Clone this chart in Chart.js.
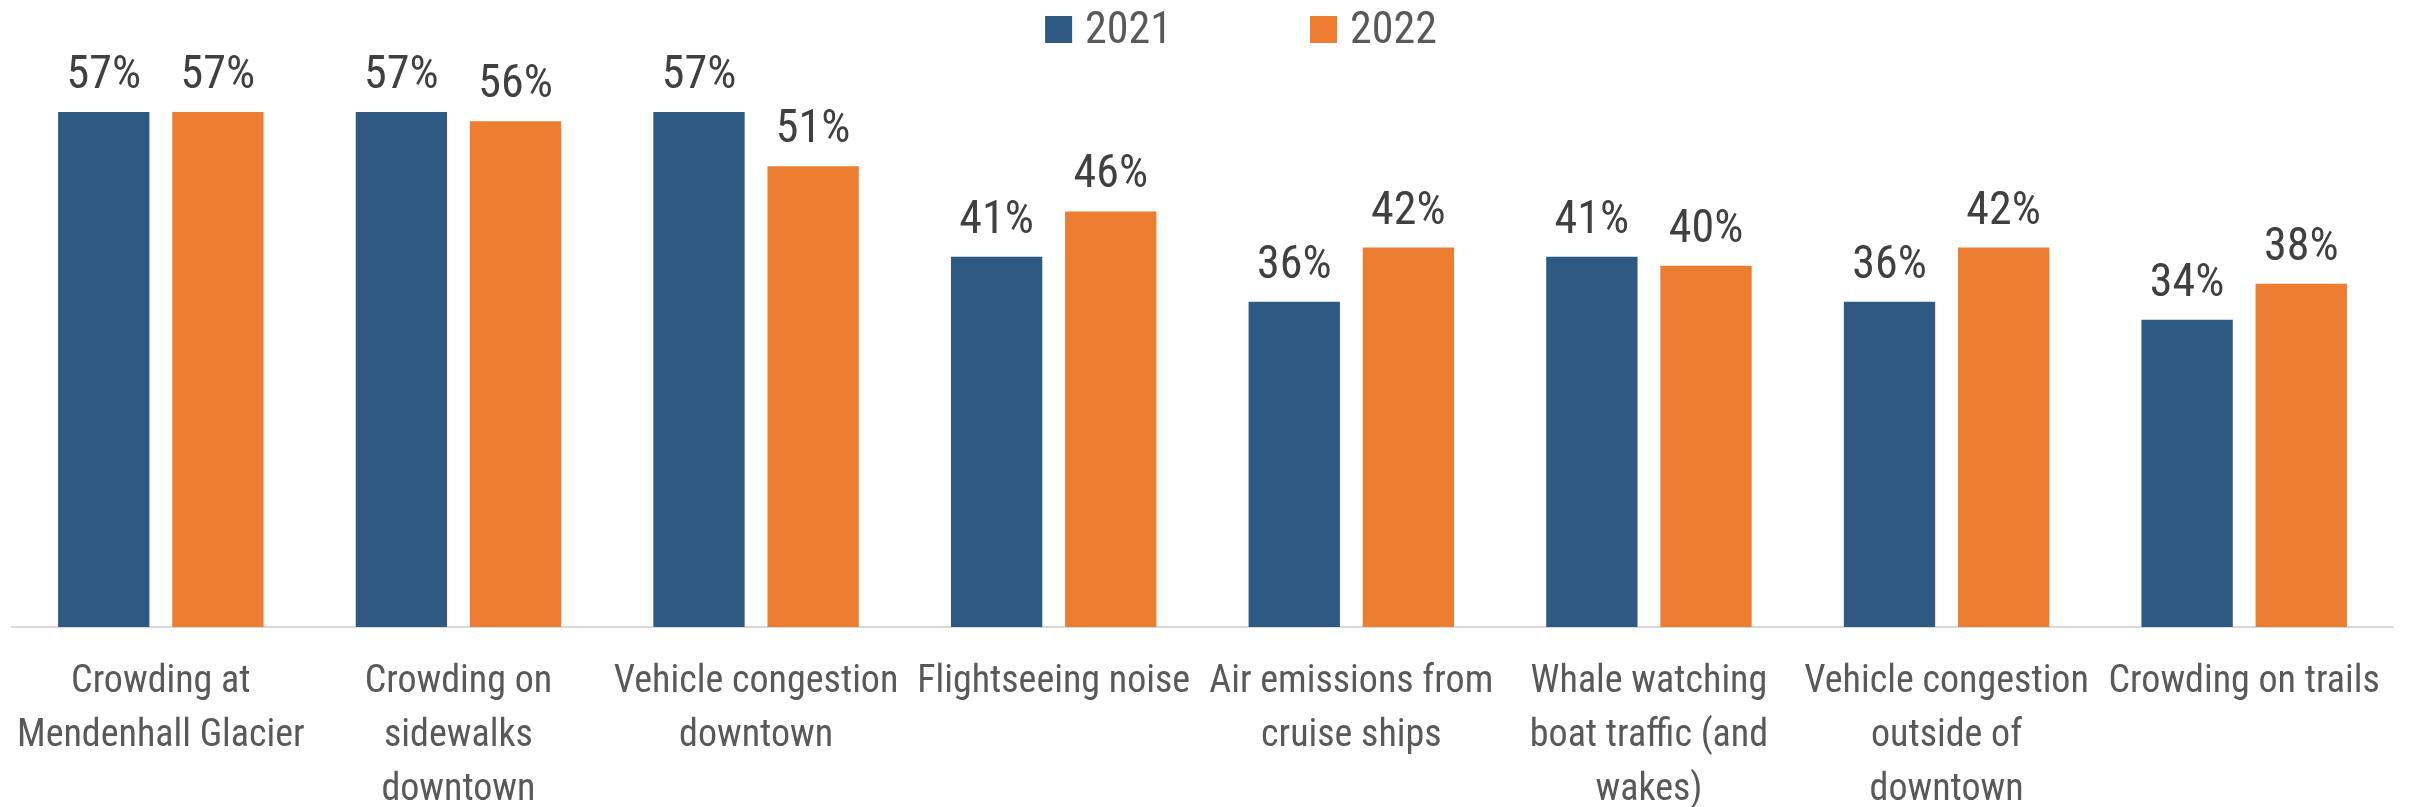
<!DOCTYPE html>
<html>
<head>
<meta charset="utf-8">
<script src="https://cdn.jsdelivr.net/npm/chart.js@4.4.1/dist/chart.umd.min.js"></script>
<style>
  html, body { margin: 0; padding: 0; background: #fff; }
  #wrap { width: 2412px; height: 807px; position: relative; }
</style>
</head>
<body>
<div id="wrap"><canvas id="impactChart"></canvas></div>
<script>
const categoryLabels = [
  ['Crowding at', 'Mendenhall Glacier'],
  ['Crowding on', 'sidewalks', 'downtown'],
  ['Vehicle congestion', 'downtown'],
  ['Flightseeing noise'],
  ['Air emissions from', 'cruise ships'],
  ['Whale watching', 'boat traffic (and', 'wakes)'],
  ['Vehicle congestion', 'outside of', 'downtown'],
  ['Crowding on trails'],
];
const seriesNames = ['2021', '2022'];
const values2021 = [57, 57, 57, 41, 36, 41, 36, 34];
const values2022 = [57, 56, 51, 46, 42, 40, 42, 38];

const FONT = "'Roboto Condensed', 'DejaVu Sans Condensed', sans-serif";

// percent labels above each bar
const valueLabels = {
  id: 'valueLabels',
  afterDatasetsDraw(chart) {
    const ctx = chart.ctx;
    ctx.save();
    ctx.font = `46px ${FONT}`;
    ctx.fillStyle = '#404040';
    ctx.textAlign = 'center';
    ctx.textBaseline = 'alphabetic';
    chart.data.datasets.forEach((ds, i) => {
      chart.getDatasetMeta(i).data.forEach((bar, j) => {
        ctx.fillText(`${ds.data[j]}%`, bar.x, bar.y - 24);
      });
    });
    ctx.restore();
  },
};

// legend row at the top, wide spacing between items
const topLegend = {
  id: 'topLegend',
  afterDraw(chart) {
    const ctx = chart.ctx;
    const box = 27;
    const gap = 13;
    const spacing = 138;
    ctx.save();
    ctx.font = `44px ${FONT}`;
    ctx.textBaseline = 'alphabetic';
    ctx.textAlign = 'left';
    const items = chart.data.datasets.map((ds) => ({
      text: ds.label,
      color: ds.backgroundColor,
      w: ctx.measureText(ds.label).width,
    }));
    let total = 0;
    items.forEach((it, i) => {
      total += box + gap + it.w + (i < items.length - 1 ? spacing : 0);
    });
    let x = chart.width / 2 + 35 - total / 2;
    items.forEach((it) => {
      ctx.fillStyle = it.color;
      ctx.fillRect(x, 16, box, box);
      ctx.fillStyle = '#595959';
      ctx.fillText(it.text, x + box + gap, 43);
      x += box + gap + it.w + spacing;
    });
    ctx.restore();
  },
};

new Chart(document.getElementById('impactChart'), {
  type: 'bar',
  data: {
    labels: categoryLabels,
    datasets: [
      {
        label: seriesNames[0],
        data: values2021,
        backgroundColor: '#2E5983',
        barPercentage: 0.8,
        categoryPercentage: 0.767,
      },
      {
        label: seriesNames[1],
        data: values2022,
        backgroundColor: '#ED7D31',
        barPercentage: 0.8,
        categoryPercentage: 0.767,
      },
    ],
  },
  options: {
    responsive: true,
    maintainAspectRatio: false,
    animation: false,
    layout: {
      padding: { left: 12, right: 19, top: 85, bottom: 0 },
    },
    plugins: {
      legend: { display: false },
      tooltip: { enabled: false },
    },
    scales: {
      x: {
        grid: { display: false, drawTicks: false },
        border: { display: true, color: '#D9D9D9', width: 2 },
        ticks: {
          color: '#595959',
          font: { family: FONT, size: 38, lineHeight: 1.42 },
          padding: 29,
          maxRotation: 0,
          autoSkip: false,
        },
        afterFit(scale) {
          // keep the axis at a fixed height and don't let wide labels push the plot inward
          scale.height = 180;
          scale.paddingLeft = 0;
          scale.paddingRight = 0;
        },
      },
      y: {
        display: false,
        min: 0,
        max: 60,
      },
    },
  },
  plugins: [valueLabels, topLegend],
});
</script>
</body>
</html>
